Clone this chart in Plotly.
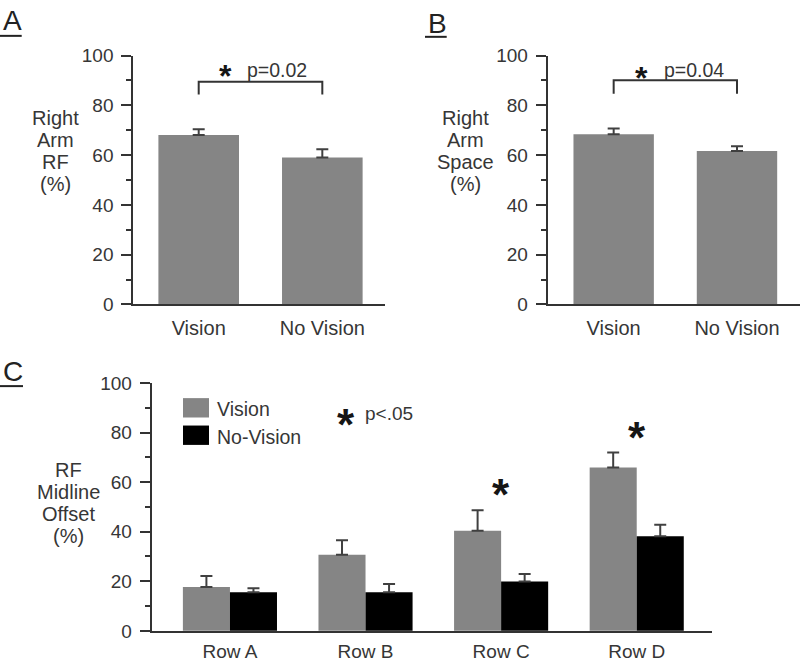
import plotly.graph_objects as go

W, H = 800, 669

# ---------------- data ----------------
a_categories = ["Vision", "No Vision"]
a_values = [68.1, 59.0]
a_errors = [2.3, 3.3]
a_bracket = [84.3, 89.5]
a_ptext = "p=0.02"

b_categories = ["Vision", "No Vision"]
b_values = [68.4, 61.6]
b_errors = [2.3, 2.0]
b_bracket = [84.6, 90.1]
b_ptext = "p=0.04"

c_categories = ["Row A", "Row B", "Row C", "Row D"]
c_vision = [17.7, 30.7, 40.4, 65.9]
c_vision_err = [4.4, 5.8, 8.2, 6.0]
c_novision = [15.6, 15.6, 19.9, 38.2]
c_novision_err = [1.6, 3.3, 3.0, 4.6]
c_sig_rows = ["Row C", "Row D"]
c_sig_y = [59.4, 82.3]

y_ticks = [0, 20, 40, 60, 80, 100]

# ---------------- style ----------------
FONT = "Liberation Sans, Arial, sans-serif"
TXT = "#363636"
GRAY = "#858585"
BLACK = "#000000"
ERRC = "#404040"
AXC = "#333333"
STARC = "#151515"


def px(x):
    return x / W


def py(y):
    return 1 - y / H


fig = go.Figure()

err_style = dict(type="data", symmetric=False, color=ERRC, thickness=2, width=6)

# Panel A
fig.add_trace(go.Bar(x=a_categories, y=a_values, width=0.652, marker=dict(color=GRAY, line=dict(width=0)),
                     error_y=dict(array=a_errors, arrayminus=[0] * len(a_errors), **err_style),
                     xaxis="x", yaxis="y", showlegend=False, hoverinfo="skip"))
fig.add_trace(go.Scatter(x=[a_categories[0], a_categories[0], a_categories[1], a_categories[1]],
                         y=[a_bracket[0], a_bracket[1], a_bracket[1], a_bracket[0]],
                         mode="lines", line=dict(color=AXC, width=2), xaxis="x", yaxis="y",
                         showlegend=False, hoverinfo="skip"))
# Panel B
fig.add_trace(go.Bar(x=b_categories, y=b_values, width=0.652, marker=dict(color=GRAY, line=dict(width=0)),
                     error_y=dict(array=b_errors, arrayminus=[0] * len(b_errors), **err_style),
                     xaxis="x2", yaxis="y2", showlegend=False, hoverinfo="skip"))
fig.add_trace(go.Scatter(x=[b_categories[0], b_categories[0], b_categories[1], b_categories[1]],
                         y=[b_bracket[0], b_bracket[1], b_bracket[1], b_bracket[0]],
                         mode="lines", line=dict(color=AXC, width=2), xaxis="x2", yaxis="y2",
                         showlegend=False, hoverinfo="skip"))
# Panel C
fig.add_trace(go.Bar(x=c_categories, y=c_vision, name="Vision", marker=dict(color=GRAY, line=dict(width=0)),
                     error_y=dict(array=c_vision_err, arrayminus=[0] * 4, **err_style),
                     xaxis="x3", yaxis="y3", showlegend=False, hoverinfo="skip"))
fig.add_trace(go.Bar(x=c_categories, y=c_novision, name="No-Vision", marker=dict(color=BLACK, line=dict(width=0)),
                     error_y=dict(array=c_novision_err, arrayminus=[0] * 4, **err_style),
                     xaxis="x3", yaxis="y3", showlegend=False, hoverinfo="skip"))


def yax(domain, anchor):
    return dict(domain=domain, anchor=anchor, range=[0, 100], tickvals=y_ticks, ticks="outside",
                ticklen=10, tickwidth=2, tickcolor=AXC, showline=True, linewidth=2, linecolor=AXC,
                showgrid=False, zeroline=False, tickfont=dict(family=FONT, size=19, color=TXT),
                minor=dict(ticks="outside", ticklen=5, tickwidth=2, tickcolor=AXC, dtick=10, tick0=0),
                ticklabelstandoff=4, fixedrange=True)


def xax(domain, anchor, rng, size, standoff):
    return dict(domain=domain, anchor=anchor, type="category", range=rng, showline=True, linewidth=2,
                linecolor=AXC, ticks="", showgrid=False, zeroline=False,
                tickfont=dict(family=FONT, size=size, color=TXT), ticklabelstandoff=standoff,
                fixedrange=True)


ydomAB = [py(304), py(47)]
ydomC = [py(641), py(385)]

fig.update_layout(
    width=W, height=H, margin=dict(l=0, r=0, t=0, b=0),
    paper_bgcolor="white", plot_bgcolor="white",
    barmode="group", bargap=0.306, bargroupgap=0,
    xaxis=xax([px(133.3), px(385)], "y", [-0.529, 1.507], 20, 5),
    yaxis=yax(ydomAB, "x"),
    xaxis2=xax([px(547.7), 1.0], "y2", [-0.535, 1.511], 20, 5),
    yaxis2=yax(ydomAB, "x2"),
    xaxis3=xax([px(151.7), px(711.7)], "y3", [-0.577, 3.553], 19, 2),
    yaxis3=yax(ydomC, "x3"),
)

ann = []
shapes = []


def text(x, y, s, size=19.5, xanchor="center", color=TXT):
    ann.append(dict(x=px(x), y=py(y), xref="paper", yref="paper", text=s, showarrow=False,
                    xanchor=xanchor, yanchor="middle", font=dict(family=FONT, size=size, color=color)))


def star(x, y, size):
    # glyph centre sits about a quarter em above the text box centre
    text(x, y + 0.25 * size, "<b>*</b>", size=size, color=STARC)


# panel letters
text(1, 11, "A", size=28, xanchor="left", color="#222")
shapes.append(dict(type="line", xref="paper", yref="paper", x0=0, x1=px(21.7), y0=py(26.7), y1=py(26.7),
                   line=dict(color="#222", width=2)))
text(426, 14, "B", size=28, xanchor="left", color="#222")
shapes.append(dict(type="line", xref="paper", yref="paper", x0=px(425), x1=px(446.7), y0=py(27.7), y1=py(27.7),
                   line=dict(color="#222", width=2)))
text(1, 373, "C", size=28, xanchor="left", color="#222")
shapes.append(dict(type="line", xref="paper", yref="paper", x0=0, x1=px(23), y0=py(388.3), y1=py(388.3),
                   line=dict(color="#222", width=2)))

# y-axis labels
for i, s in enumerate(["Right", "Arm", "RF", "(%)"]):
    text(55, 111.7 + i * 22.8, s, size=20)
for i, s in enumerate(["Right", "Arm", "Space", "(%)"]):
    text(465, 111.7 + i * 22.8, s, size=20)
for i, s in enumerate(["RF", "Midline", "Offset", "(%)"]):
    text(68, 475 + i * 22.7, s, size=20)

# significance marks
star(226, 60.5, 32)
text(245, 62, a_ptext, size=19.5, xanchor="left")
star(641, 61.7, 32)
text(661.7, 62, b_ptext, size=19.5, xanchor="left")
star(345.8, 416.7, 44)
text(363.3, 417, "p<.05", size=19, xanchor="left")
for row, yv in zip(c_sig_rows, c_sig_y):
    ann.append(dict(x=row, y=yv, xref="x3", yref="y3", text="<b>*</b>", showarrow=False,
                    xanchor="center", yanchor="middle", yshift=-0.25 * 44,
                    font=dict(family=FONT, size=44, color=STARC)))

# legend for panel C
shapes.append(dict(type="rect", xref="paper", yref="paper", x0=px(183), x1=px(209), y0=py(420.7), y1=py(400.7),
                   fillcolor=GRAY, line=dict(width=0)))
shapes.append(dict(type="rect", xref="paper", yref="paper", x0=px(183), x1=px(209), y0=py(449), y1=py(429),
                   fillcolor=BLACK, line=dict(width=0)))
text(215, 412, "Vision", size=19.5, xanchor="left")
text(215, 441, "No-Vision", size=19.5, xanchor="left")

fig.update_layout(annotations=ann, shapes=shapes)
fig.write_html("out.html", config={"displayModeBar": False, "staticPlot": True},
               post_script="document.body.style.margin='0';document.body.style.overflow='hidden';")
